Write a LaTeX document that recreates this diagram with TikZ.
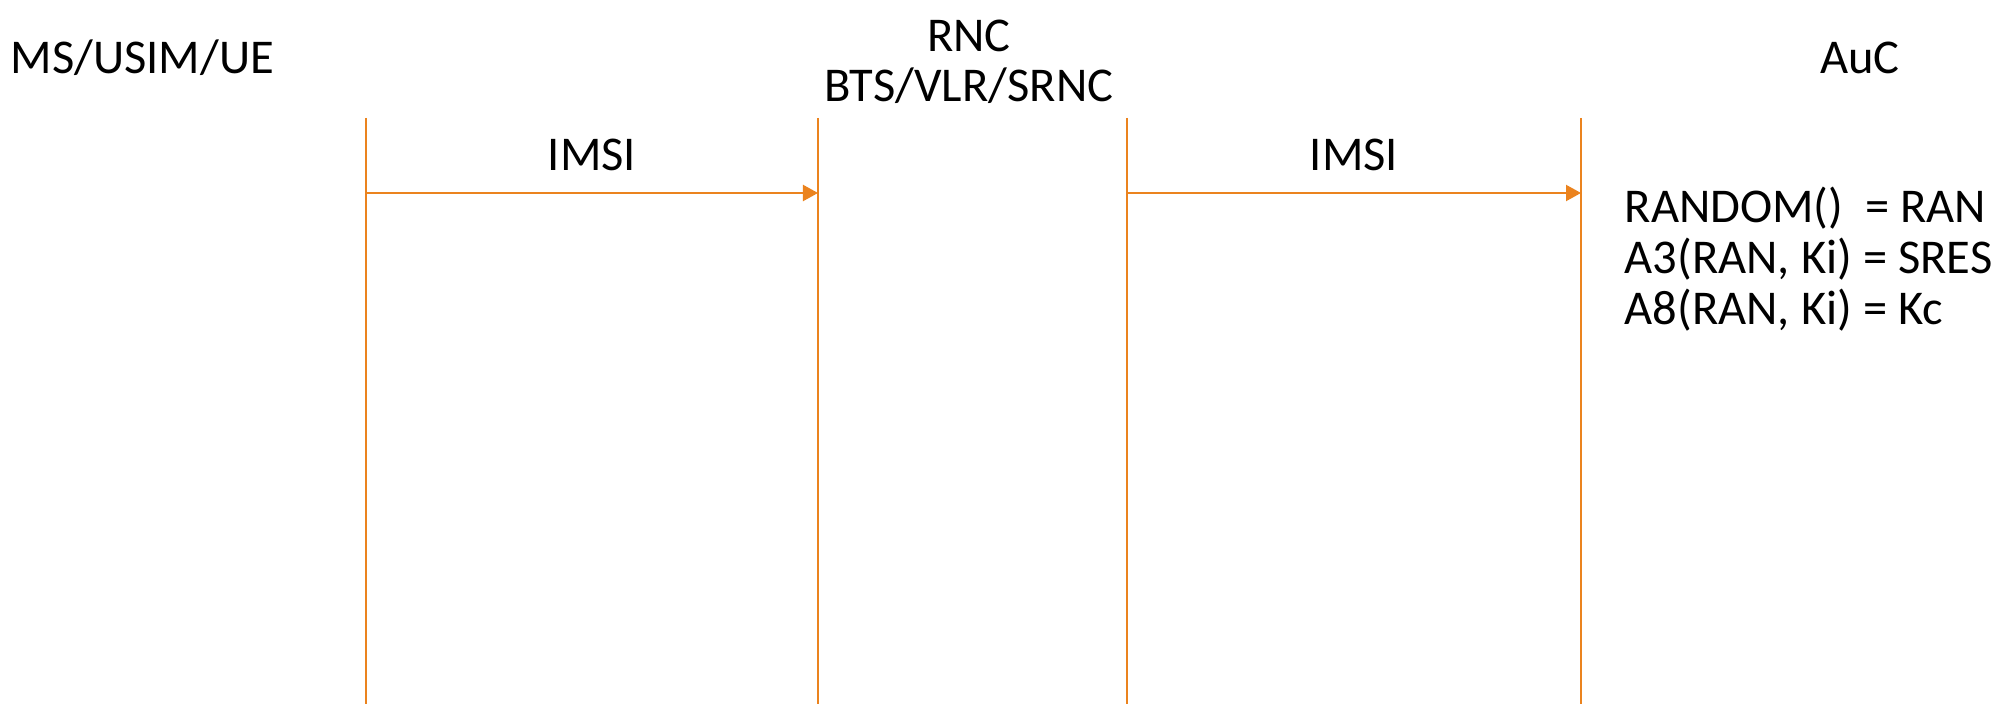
\documentclass[tikz,border=0pt]{standalone}
\usepackage{fontspec}
\setmainfont{Carlito}
\usetikzlibrary{arrows.meta}
\definecolor{lifeorange}{RGB}{235,131,30}

\begin{document}
\begin{tikzpicture}[x=0.01cm, y=-0.01cm, >={Triangle[length=1.5mm,width=1.6mm]}]
            % ==== DEFINITIONS ====
            \def\lineTop{118} % top of the lifelines
            \def\lineBot{704} % bottom of the lifelines
            \def\msgY{193}    % height of the IMSI messages
            \tikzset{
              lbl/.style={inner sep=0pt, font=\fontsize{13.8}{14.3}\selectfont},
              lifeline/.style={draw=lifeorange, line width=0.6pt},
              msg/.style={->, draw=lifeorange, line width=0.6pt},
            }

            % ==== FRAME ====
            \useasboundingbox (0,0) rectangle (2005,704);

            % ==== HEADERS ====
            \node[lbl, anchor=base west] (ms) at (10,74) {MS/USIM/UE};
            \node[lbl, anchor=base, align=center] (rnc) at (969,102) {RNC\\BTS/VLR/SRNC}; % base = last line
            \node[lbl, anchor=base] (auc) at (1860,74) {AuC};

            % ==== LIFELINES ====
            \foreach \name/\x in {la/366, lb/818, lc/1127, ld/1581} {
              \coordinate (\name-top) at (\x,\lineTop);
              \coordinate (\name-bot) at (\x,\lineBot);
              \coordinate (\name-msg) at (\x,\msgY);
              \draw[lifeline] (\name-top) -- (\name-bot);
            }

            % ==== MESSAGES ====
            \draw[msg] (la-msg) -- node[lbl, midway, anchor=base, yshift=0.225cm] (imsiA) {IMSI} (lb-msg);
            \draw[msg] (lc-msg) -- node[lbl, midway, anchor=base, yshift=0.225cm] (imsiB) {IMSI} (ld-msg);

            % ==== AUC COMPUTATION ====
            \node[lbl, anchor=base west, align=left, font=\fontsize{13.8}{14.6}\selectfont] (calc) at (1624,325)
              {RANDOM()~ = RAN\\A3(RAN, Ki) = SRES\\A8(RAN, Ki) = Kc};

        \end{tikzpicture}
\end{document}
